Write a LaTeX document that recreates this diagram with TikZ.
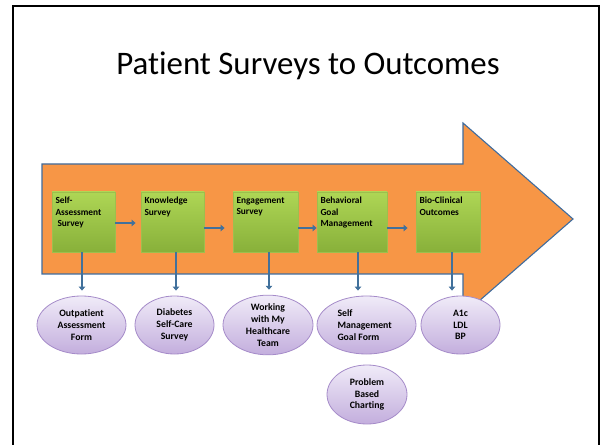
\documentclass[tikz,border=0pt]{standalone}
\usepackage{fontspec}
\setmainfont{Carlito}[Ligatures=NoCommon]
\usetikzlibrary{shapes.geometric,arrows.meta}
\definecolor{arrowfill}{HTML}{F79646}
\definecolor{arrowedge}{HTML}{3F6C9E}
\definecolor{conncol}{HTML}{41719C}
\definecolor{boxtop}{HTML}{AED655}
\definecolor{boxbot}{HTML}{88B03A}
\definecolor{boxedge}{HTML}{9CBF4E}
\definecolor{elltop}{HTML}{F0EBF8}
\definecolor{ellbot}{HTML}{C3AEDD}
\definecolor{elledge}{HTML}{A58BC9}
\tikzset{
  stepbox/.style={rectangle, draw=boxedge, line width=0.8bp, top color=boxtop, bottom color=boxbot,
    minimum height=60bp, inner sep=0pt, font=\bfseries\fontsize{9.4}{11.6}\selectfont},
  oval/.style={ellipse, draw=elledge, line width=0.8bp, top color=elltop, bottom color=ellbot,
    inner sep=0pt, minimum height=58bp, align=center, font=\bfseries\fontsize{9.8}{11.8}\selectfont},
  conn/.style={draw=conncol, line width=2.8bp, -{Triangle[width=6.5bp,length=4bp]}},
}
\newcommand{\boxtext}[2]{\parbox[t][50bp][t]{#1}{\raggedright #2}}
\begin{document}
\begin{tikzpicture}[x=1bp,y=-1bp]
\useasboundingbox (0,0) rectangle (602,445);
\fill[white] (0,0) rectangle (602,445);
% slide frame
\draw[line width=2.2bp, black] (13,450) -- (13,6) -- (599,6) -- (599,450);
% title
\node[font=\fontsize{33}{38}\selectfont] (title) at (308,66) {Patient Surveys to Outcomes};
% big arrow
\draw[fill=arrowfill, draw=arrowedge, line width=1.1bp, line join=miter]
  (42,164) -- (463,164) -- (463,123) -- (573,219) -- (463,315) -- (463,274) -- (42,274) -- cycle;
% boxes
\node[stepbox, minimum width=63bp] (b1) at (83.5,222) {\boxtext{56bp}{Self-\\Assessment\\\hspace*{2bp}Survey}};
\node[stepbox, minimum width=63bp] (b2) at (172.5,222) {\boxtext{56bp}{Knowledge\\Survey}};
\node[stepbox, minimum width=65bp] (b3) at (265.5,222) {\boxtext{58bp}{Engagement\\Survey}};
\node[stepbox, minimum width=70bp] (b4) at (352,222) {\boxtext{63bp}{Behavioral\\Goal\\Management}};
\node[stepbox, minimum width=64bp] (b5) at (448,222) {\boxtext{57bp}{Bio-Clinical\\Outcomes}};
% ovals
\node[oval, minimum width=89bp] (e1) at (81.5,325) {Outpatient\\Assessment\\Form};
\node[oval, minimum width=79bp] (e2) at (174.5,325) {Diabetes\\Self-Care\\Survey};
\node[oval, minimum width=90bp] (e3) at (268,325) {\raisebox{-6bp}{\parbox{60bp}{\centering Working\\with My\\Healthcare\\Team}}};
\node[oval, minimum width=99bp] (e4) at (366.5,325) {\parbox{58bp}{\raggedright Self\\Management\\Goal Form}};
\node[oval, minimum width=79bp] (e5) at (460.5,325) {A1c\\LDL\\BP};
\node[oval, minimum width=80bp, minimum height=59bp] (e6) at (367,394.5) {Problem\\Based\\Charting};
% horizontal connectors
\draw[conn, shorten >=5bp] ([yshift=-1bp]b1.east) -- ([yshift=-1bp]b2.west);
\draw[conn, shorten >=8bp] ([yshift=-6bp]b2.east) -- ([yshift=-6bp]b3.west);
\draw[conn] ([yshift=-6bp]b3.east) -- ([yshift=-6bp]b4.west);
\draw[conn, shorten >=8bp] ([yshift=-6bp]b4.east) -- ([yshift=-6bp]b5.west);
% vertical connectors
\draw[conn, shorten >=5bp] ([xshift=-1.5bp]b1.south) -- ([xshift=-1.5bp]b1.south |- e1.north);
\draw[conn, shorten >=5bp] ([xshift=3.5bp]b2.south) -- ([xshift=3.5bp]b2.south |- e2.north);
\draw[conn, shorten >=5bp] ([xshift=3.5bp]b3.south) -- ([xshift=3.5bp]b3.south |- e3.north);
\draw[conn, shorten >=5bp] ([xshift=6bp]b4.south) -- ([xshift=6bp]b4.south |- e4.north);
\draw[conn, shorten >=5bp] ([xshift=4bp]b5.south) -- ([xshift=4bp]b5.south |- e5.north);
\end{tikzpicture}
\end{document}
